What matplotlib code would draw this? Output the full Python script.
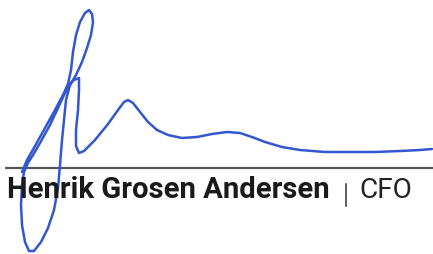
import matplotlib
matplotlib.use("Agg")
import matplotlib.pyplot as plt

# signature stroke, pixel coordinates (x right, y down)
sig_x = [22, 27, 35, 45, 55, 63, 68, 71, 73, 76, 80, 85, 89, 92, 93, 91, 87, 82, 76, 70,
         66, 64, 62, 60, 58, 54, 48, 41, 34, 29, 25, 22, 21, 22, 24, 28, 33, 40, 50, 58,
         64, 69, 74, 79, 79, 78, 76, 76, 79, 84, 95, 108, 118, 124, 128, 133, 140, 148,
         157, 168, 182, 197, 212, 227, 240, 252, 265, 282, 300, 325, 350, 375, 400, 420, 432]
sig_y = [172, 160, 146, 128, 110, 95, 84, 70, 52, 35, 22, 13, 10, 14, 22, 35, 48, 62, 75, 85,
         100, 120, 140, 165, 188, 210, 228, 242, 251, 251, 242, 225, 205, 185, 172, 163, 155, 143, 125, 108,
         95, 85, 80, 78, 90, 110, 130, 146, 153, 151, 140, 124, 110, 102, 100, 103, 112, 122,
         130, 135, 138, 137, 134, 132, 133, 137, 142, 147, 150, 152, 152, 152, 151, 150, 149]

rule_x = [5, 433]
rule_y = [168, 168]

name = "Henrik Grosen Andersen"
title = "CFO"

fig = plt.figure(figsize=(4.33, 2.54), dpi=100)
ax = fig.add_axes([0, 0, 1, 1])
ax.set_xlim(0, 433)
ax.set_ylim(254, 0)
ax.axis("off")

ax.plot(rule_x, rule_y, color="#555555", lw=1.6, solid_capstyle="butt")


def fit(txt, width):
    fig.canvas.draw()
    w = txt.get_window_extent().width
    txt.set_fontsize(txt.get_fontsize() * width / w)


t = ax.text(7, 198, name, fontsize=17, fontweight="bold", family="Roboto",
            color="#1a1a1a", va="baseline", ha="left")
fit(t, 323)

ax.plot([345.5, 345.5], [184, 206], color="#333333", lw=1.1)
c = ax.text(359, 198, title, fontsize=14, family="Roboto", color="#222222",
            va="baseline", ha="left")
fit(c, 53)

ax.plot(sig_x, sig_y, color="#3457d0", lw=1.8, solid_joinstyle="round",
        solid_capstyle="round")

fig.savefig("out.png", dpi=100)
